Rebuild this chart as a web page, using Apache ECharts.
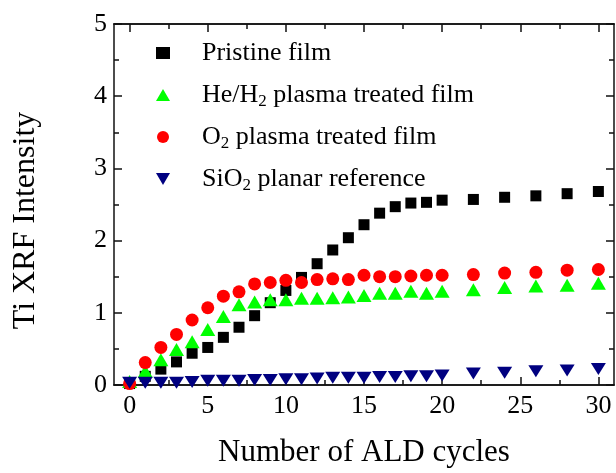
<!DOCTYPE html>
<html><head><meta charset="utf-8">
<script src="https://cdn.jsdelivr.net/npm/echarts@6/dist/echarts.min.js"></script>
<style>html,body{margin:0;padding:0;background:#fff}#c{width:616px;height:473px}</style>
</head><body><div id="c"></div>
<script>
const cycles = [0,1,2,3,4,5,6,7,8,9,10,11,12,13,14,15,16,17,18,19,20,22,24,26,28,30];
const pristine = [0.02,0.12,0.22,0.32,0.44,0.52,0.66,0.80,0.96,1.14,1.31,1.49,1.68,1.87,2.04,2.22,2.38,2.47,2.52,2.53,2.56,2.57,2.60,2.62,2.65,2.68];
const heH2 = [0.05,0.19,0.35,0.49,0.60,0.77,0.95,1.11,1.15,1.18,1.18,1.20,1.20,1.21,1.22,1.24,1.27,1.27,1.30,1.27,1.30,1.32,1.35,1.37,1.38,1.41];
const o2 = [0.02,0.31,0.52,0.70,0.90,1.07,1.23,1.29,1.40,1.42,1.45,1.42,1.46,1.47,1.46,1.52,1.50,1.50,1.51,1.52,1.52,1.53,1.55,1.56,1.59,1.60];
const sio2 = [0.03,0.03,0.03,0.03,0.04,0.06,0.06,0.06,0.07,0.07,0.08,0.08,0.09,0.10,0.10,0.10,0.11,0.11,0.12,0.12,0.13,0.16,0.17,0.19,0.20,0.22];
const seriesNames = ['Pristine film','He/H2 plasma treated film','O2 plasma treated film','SiO2 planar reference'];
const xMajor = [0,5,10,15,20,25,30];
const xMinor = [2.5,7.5,12.5,17.5,22.5,27.5];

const FONT = 'Liberation Serif';
const pair = arr => cycles.map((c,i)=>[c,arr[i]]);
const lineStyle = {color:'#111', width:1.5};
const INV_TRI = 'path://M0,0 L2,0 L1,1.7 Z';

function xAx(pos, values, len, labels, name){
  return {type:'value', position:pos, min:-1, max:31, gridIndex:0,
    axisLine:{show:true, onZero:false, lineStyle},
    axisTick:{show:true, inside:true, length:len, customValues:values, lineStyle},
    axisLabel:{show:labels, customValues:xMajor, margin:8, fontFamily:FONT, fontSize:26, color:'#000'},
    splitLine:{show:false},
    name: name||'', nameLocation:'middle', nameGap:52,
    nameTextStyle:{fontFamily:FONT, fontSize:31, color:'#000'}};
}
function yAx(pos, labels, name){
  return {type:'value', position:pos, min:0, max:5, interval:1,
    axisLine:{show:true, onZero:false, lineStyle},
    axisTick:{show:true, inside:true, length:8, lineStyle},
    minorTick:{show:true, splitNumber:2, length:5, lineStyle},
    axisLabel:{show:labels, margin:7, fontFamily:FONT, fontSize:26, color:'#000'},
    splitLine:{show:false}, minorSplitLine:{show:false},
    name:name||'', nameLocation:'middle', nameGap:72, nameRotate:90,
    nameTextStyle:{fontFamily:FONT, fontSize:32, color:'#000', padding:[0,32,0,0]}};
}

const chart = echarts.init(document.getElementById('c'), null, {renderer:'canvas'});
chart.setOption({
  animation:false,
  backgroundColor:'#fff',
  grid:{left:114, right:2, top:24, bottom:84, containLabel:false},
  xAxis:[
    xAx('bottom', xMajor, 8, true, 'Number of ALD cycles'),
    xAx('bottom', xMinor, 5, false),
    xAx('top', xMajor, 8, false),
    xAx('top', xMinor, 5, false)
  ],
  yAxis:[ yAx('left', true, 'Ti XRF Intensity'), yAx('right', false) ],
  legend:{
    orient:'vertical', left:151, top:33, itemWidth:14, itemHeight:12, itemGap:12,
    symbolKeepAspect:false,
    data: [
      {name:seriesNames[0]},
      {name:seriesNames[1]},
      {name:seriesNames[2]},
      {name:seriesNames[3], icon:INV_TRI}
    ],
    formatter: n => n.replace('H2','H{s|2}').replace('O2','O{s|2}'),
    textStyle:{fontFamily:FONT, fontSize:26, lineHeight:30, color:'#000', padding:[0,0,0,27],
      rich:{s:{fontFamily:FONT, fontSize:17, lineHeight:12, verticalAlign:'bottom', color:'#000'}}}
  },
  series:[
    {name:seriesNames[0], type:'scatter', xAxisIndex:0, yAxisIndex:0, symbol:'rect', symbolSize:11, itemStyle:{color:'#000000', opacity:1}, data:pair(pristine)},
    {name:seriesNames[1], type:'scatter', xAxisIndex:0, yAxisIndex:0, symbol:'triangle', symbolSize:[15,13], itemStyle:{color:'#00ff00', opacity:1}, data:pair(heH2)},
    {name:seriesNames[2], type:'scatter', xAxisIndex:0, yAxisIndex:0, symbol:'circle', symbolSize:13, itemStyle:{color:'#ff0000', opacity:1}, data:pair(o2)},
    {name:seriesNames[3], type:'scatter', xAxisIndex:0, yAxisIndex:0, symbol:'triangle', symbolRotate:180, symbolSize:[15,12], itemStyle:{color:'#000080', opacity:1}, data:pair(sio2)}
  ]
});
</script></body></html>
